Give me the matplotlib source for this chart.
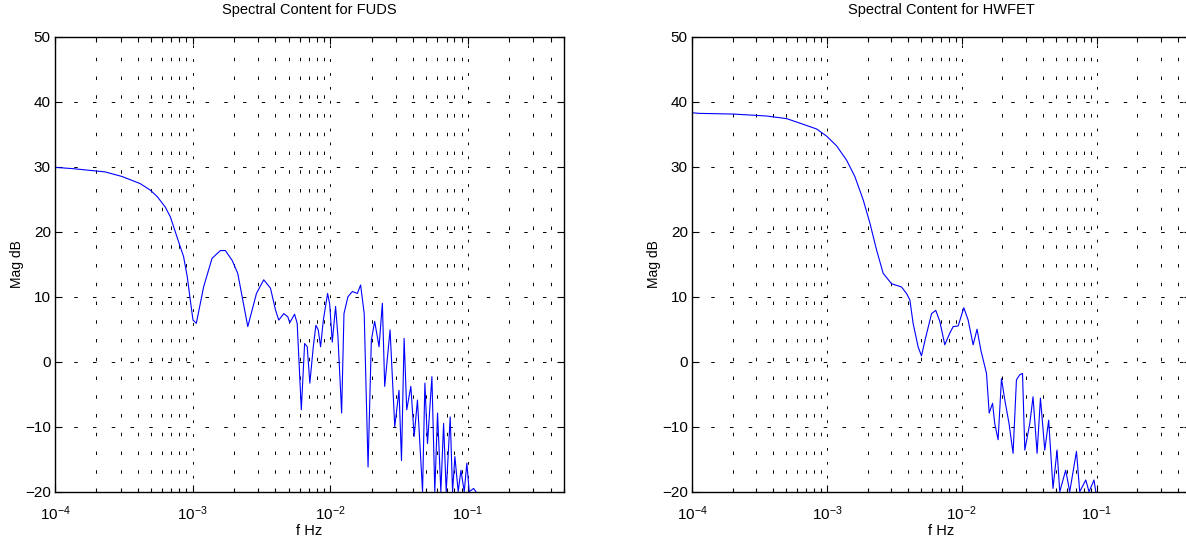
import numpy as np
import matplotlib
matplotlib.use("Agg")
import matplotlib.pyplot as plt
from matplotlib.ticker import LogLocator, NullFormatter

plt.rcParams['font.family'] = ['Liberation Sans', 'DejaVu Sans']
plt.rcParams['mathtext.fontset'] = 'custom'
plt.rcParams['mathtext.rm'] = 'Liberation Sans'
plt.rcParams['mathtext.it'] = 'Liberation Sans'
plt.rcParams['mathtext.default'] = 'regular'
plt.rcParams['lines.scale_dashes'] = False

# FUDS spectrum: log10(f) and magnitude in dB
fuds_logf = [-4.000, -3.869, -3.636, -3.514, -3.381, -3.308, -3.257, -3.199, -3.162, -3.126,
             -3.090, -3.066, -3.039, -3.017, -2.997, -2.973, -2.920, -2.859, -2.798, -2.762,
             -2.713, -2.672, -2.640, -2.599, -2.536, -2.483, -2.434, -2.398, -2.374, -2.337,
             -2.308, -2.294, -2.259, -2.240, -2.210, -2.186, -2.167, -2.148, -2.123, -2.104,
             -2.087, -2.070, -2.050, -2.019, -2.004, -1.985, -1.961, -1.944, -1.917, -1.900,
             -1.871, -1.839, -1.803, -1.779, -1.753, -1.725, -1.701, -1.677, -1.645, -1.621,
             -1.604, -1.565, -1.531, -1.500, -1.482, -1.463, -1.444, -1.414, -1.390, -1.366,
             -1.329, -1.312, -1.293, -1.261, -1.240, -1.220, -1.196, -1.176, -1.157, -1.128,
             -1.111, -1.094, -1.070, -1.050, -1.026, -1.007, -0.990, -0.958, -0.941]
fuds_db = [29.9, 29.7, 29.2, 28.5, 27.4, 26.4, 25.4, 23.8, 22.3, 20.0,
           17.7, 16.2, 13.1, 9.5, 6.4, 5.9, 11.5, 15.9, 17.1, 17.1,
           15.6, 13.6, 10.0, 5.4, 10.5, 12.6, 11.3, 8.0, 6.4, 7.4,
           6.9, 6.0, 7.3, 5.9, -7.4, 2.8, 2.3, -3.3, 2.3, 5.6,
           4.9, 2.3, 6.4, 10.5, 8.9, 3.0, 8.5, 3.9, -7.9, 7.4,
           10.0, 10.8, 10.5, 11.8, 7.4, -16.2, 3.3, 6.2, 2.3, 9.0,
           -3.8, 4.9, -10.0, -4.4, -15.2, 3.6, -7.4, -3.8, -11.5, -5.9,
           -20.0, -3.3, -12.6, -2.3, -20.0, -7.9, -20.0, -9.5, -20.0, -8.5,
           -20.0, -14.6, -20.0, -16.7, -20.0, -15.6, -20.0, -19.5, -20.0]

# HWFET spectrum: log10(f) and magnitude in dB
hwfet_logf = [-4.000, -3.941, -3.694, -3.447, -3.299, -3.200, -3.076, -3.002, -2.928, -2.854,
              -2.793, -2.731, -2.681, -2.632, -2.583, -2.521, -2.447, -2.410, -2.385, -2.361,
              -2.324, -2.299, -2.267, -2.224, -2.193, -2.163, -2.126, -2.089, -2.064, -2.027,
              -1.985, -1.953, -1.916, -1.887, -1.859, -1.817, -1.797, -1.772, -1.756, -1.731,
              -1.706, -1.681, -1.650, -1.620, -1.595, -1.570, -1.550, -1.533, -1.496, -1.472,
              -1.442, -1.417, -1.385, -1.356, -1.324, -1.294, -1.274, -1.230, -1.200, -1.150,
              -1.126, -1.081, -1.057, -1.020, -1.007]
hwfet_db = [38.3, 38.2, 38.1, 37.8, 37.4, 36.7, 35.8, 34.7, 33.2, 31.0,
            28.5, 24.9, 21.3, 17.2, 13.6, 12.0, 11.5, 10.5, 9.5, 5.9,
            2.3, 0.9, 3.8, 7.4, 7.9, 6.2, 2.6, 4.4, 5.4, 5.5,
            8.3, 6.4, 2.6, 5.0, 1.8, -1.8, -7.9, -6.4, -9.5, -12.0,
            -2.6, -5.9, -9.5, -14.1, -2.8, -2.0, -1.8, -13.6, -9.5, -5.4,
            -14.1, -5.6, -13.6, -9.0, -19.5, -13.6, -20.0, -16.7, -20.0, -13.8,
            -20.0, -18.2, -20.0, -18.2, -20.0]

titles = ["Spectral Content for FUDS", "Spectral Content for HWFET"]
series = [(fuds_logf, fuds_db), (hwfet_logf, hwfet_db)]
positions = [[55 / 1186, 0.1011, 509 / 1186, 0.8318],
             [692 / 1186, 0.1011, 499 / 1186, 0.8318]]

fig = plt.figure(figsize=(11.86, 5.47), dpi=100)

for pos, title, (logf, db) in zip(positions, titles, series):
    ax = fig.add_axes(pos)
    ax.plot(10 ** np.array(logf), db, color=(0, 0, 1), lw=0.8)
    ax.set_xscale('log')
    ax.set_xlim(1e-4, 0.5)
    ax.set_ylim(-20, 50)
    ax.set_yticks(range(-20, 51, 10))
    ax.xaxis.set_major_locator(LogLocator(base=10, numticks=10))
    ax.xaxis.set_minor_locator(LogLocator(base=10, subs=np.arange(2, 10), numticks=20))
    ax.xaxis.set_minor_formatter(NullFormatter())
    ax.xaxis.grid(True, which='major', color='black', lw=0.7, linestyle=(0, (2, 8)))
    ax.xaxis.grid(True, which='minor', color='black', lw=0.7, linestyle=(0, (2.5, 11)))
    ax.yaxis.grid(True, which='major', color='black', lw=0.7, linestyle=(0, (2.5, 11)))
    ax.tick_params(which='both', direction='in', top=True, right=True, labelsize=11,
                   width=0.8, color='black')
    ax.tick_params(axis='x', which='major', length=5, pad=9)
    ax.tick_params(axis='y', which='major', length=5, pad=3)
    ax.tick_params(which='minor', length=3)
    for s in ax.spines.values():
        s.set_linewidth(1.0)
    ax.set_title(title, fontsize=10.5, pad=16)
    ax.set_xlabel("f Hz", fontsize=10.5, labelpad=1)
    ax.set_ylabel("Mag dB", fontsize=10, labelpad=1)

fig.savefig("out.png", dpi=100)
